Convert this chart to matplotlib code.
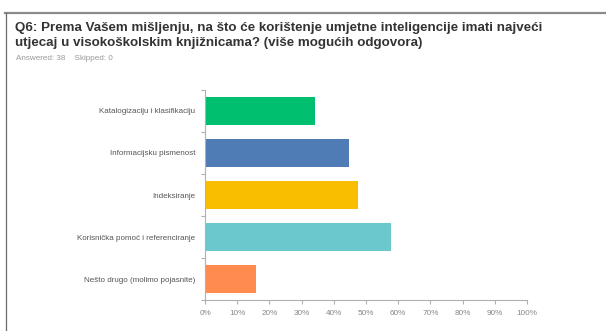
import matplotlib.pyplot as plt
import numpy as np
from matplotlib.lines import Line2D

plt.rcParams['font.family'] = ['Liberation Sans', 'DejaVu Sans']

categories = ['Katalogizaciju i klasifikaciju',
              'Informacijsku pismenost',
              'Indeksiranje',
              'Korisnička pomoć i referenciranje',
              'Nešto drugo (molimo pojasnite)']
shares = [34.2, 44.7, 47.4, 57.9, 15.8]
colors = ['#00BF6F', '#507CB6', '#F9BE00', '#6BC8CD', '#FF8B4F']
xticks = list(range(0, 101, 10))

title_lines = ['Q6: Prema Vašem mišljenju, na što će korištenje umjetne inteligencije imati najveći',
               'utjecaj u visokoškolskim knjižnicama? (više mogućih odgovora)']
answered = 'Answered: 38    Skipped: 0'

W, H = 606, 331
fig = plt.figure(figsize=(W / 100, H / 100), dpi=100)

# frame around the question block
fig.add_artist(Line2D([5 / W, 605 / W], [1 - 13 / H, 1 - 13 / H],
                      color='#8a8a8a', lw=1.6, transform=fig.transFigure))
fig.add_artist(Line2D([6 / W, 6 / W], [0, 1 - 13 / H],
                      color='#6a6a6a', lw=0.9, transform=fig.transFigure))

for line, base in zip(title_lines, [31, 46]):
    fig.text(15 / W, 1 - base / H, line, ha='left', va='baseline',
             fontsize=9.6, fontweight='bold', color='#333333')
fig.text(16 / W, 1 - 59 / H, answered, ha='left', va='center',
         fontsize=5.9, color='#9a9a9a')

ax = fig.add_axes([205 / W, 31 / H, 322 / W, 210 / H])
y = np.arange(len(categories))
ax.barh(y, shares, height=0.67, color=colors)

ax.set_xlim(0, 100)
ax.set_ylim(len(categories) - 0.5, -0.5)
ax.set_xticks(xticks)
ax.set_xticklabels([f'{t}%' for t in xticks])
ax.set_yticks(y)
ax.set_yticklabels(categories)
ax.set_yticks(np.arange(len(categories) + 1) - 0.5, minor=True)

for s in ['top', 'right']:
    ax.spines[s].set_visible(False)
for s in ['left', 'bottom']:
    ax.spines[s].set_color('#b0b0b0')
    ax.spines[s].set_linewidth(0.8)

ax.tick_params(axis='y', which='major', length=0, pad=7, labelsize=5.8,
               labelcolor='#555555')
ax.tick_params(axis='y', which='minor', length=3, color='#b0b0b0', width=0.8)
ax.tick_params(axis='x', length=3, color='#b0b0b0', width=0.8, pad=4,
               labelsize=5.9, labelcolor='#888888')

fig.savefig('out.png', dpi=100)
